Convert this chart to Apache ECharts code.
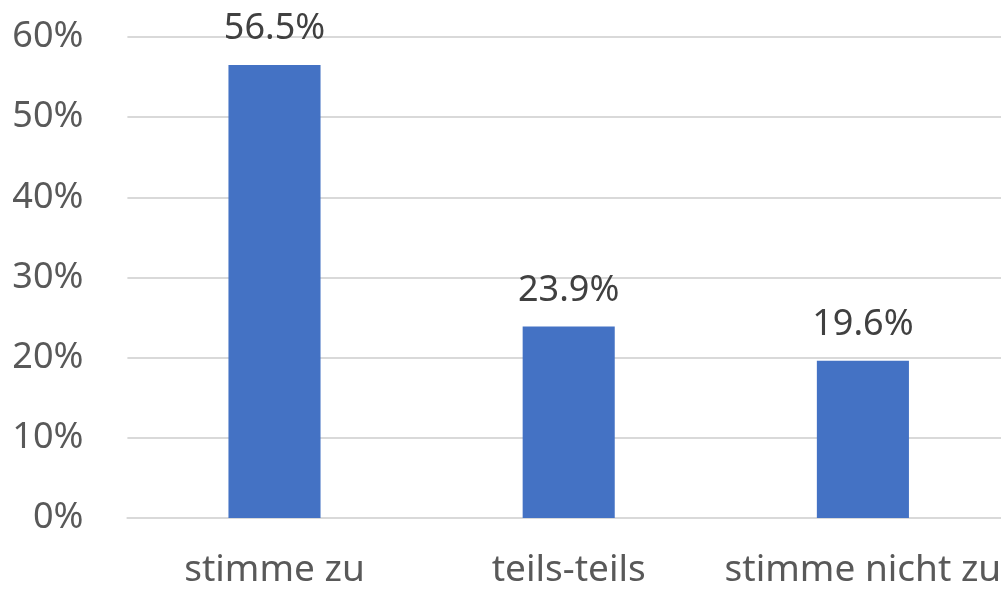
<!DOCTYPE html>
<html>
<head>
<meta charset="utf-8">
<script src="https://cdn.jsdelivr.net/npm/echarts@6/dist/echarts.min.js"></script>
<style>html,body{margin:0;padding:0;background:#fff}#c{width:1001px;height:591px}</style>
</head>
<body>
<div id="c"></div>
<script>
const categories = ['stimme zu', 'teils-teils', 'stimme nicht zu'];
const values = [56.5, 23.9, 19.6];
const yTicks = [0, 10, 20, 30, 40, 50, 60];

const chart = echarts.init(document.getElementById('c'));
chart.setOption({
  animation: false,
  grid: { left: 127.4, width: 882.6, top: 37, bottom: 73, containLabel: false, outerBoundsMode: 'none' },
  xAxis: {
    type: 'category',
    data: categories,
    axisLine: { show: true, lineStyle: { color: '#d9d9d9', width: 2 } },
    axisTick: { show: false },
    axisLabel: { interval: 0, margin: 34, fontSize: 37, color: '#595959', fontFamily: 'Noto Sans', hideOverlap: false }
  },
  yAxis: {
    type: 'value',
    min: yTicks[0],
    max: yTicks[yTicks.length - 1],
    interval: 10,
    axisLine: { show: false },
    axisTick: { show: false },
    splitLine: { lineStyle: { color: '#d9d9d9', width: 2 } },
    axisLabel: { margin: 44, fontSize: 36, color: '#595959', fontFamily: 'Noto Sans', formatter: v => v + '%' }
  },
  series: [{
    type: 'bar',
    data: values,
    barWidth: '31.3%',
    itemStyle: { color: '#4472C4' },
    label: {
      show: true,
      position: 'top',
      distance: 18,
      fontSize: 36,
      color: '#404040',
      fontFamily: 'Noto Sans',
      formatter: p => p.value.toFixed(1) + '%'
    }
  }]
});
</script>
</body>
</html>
